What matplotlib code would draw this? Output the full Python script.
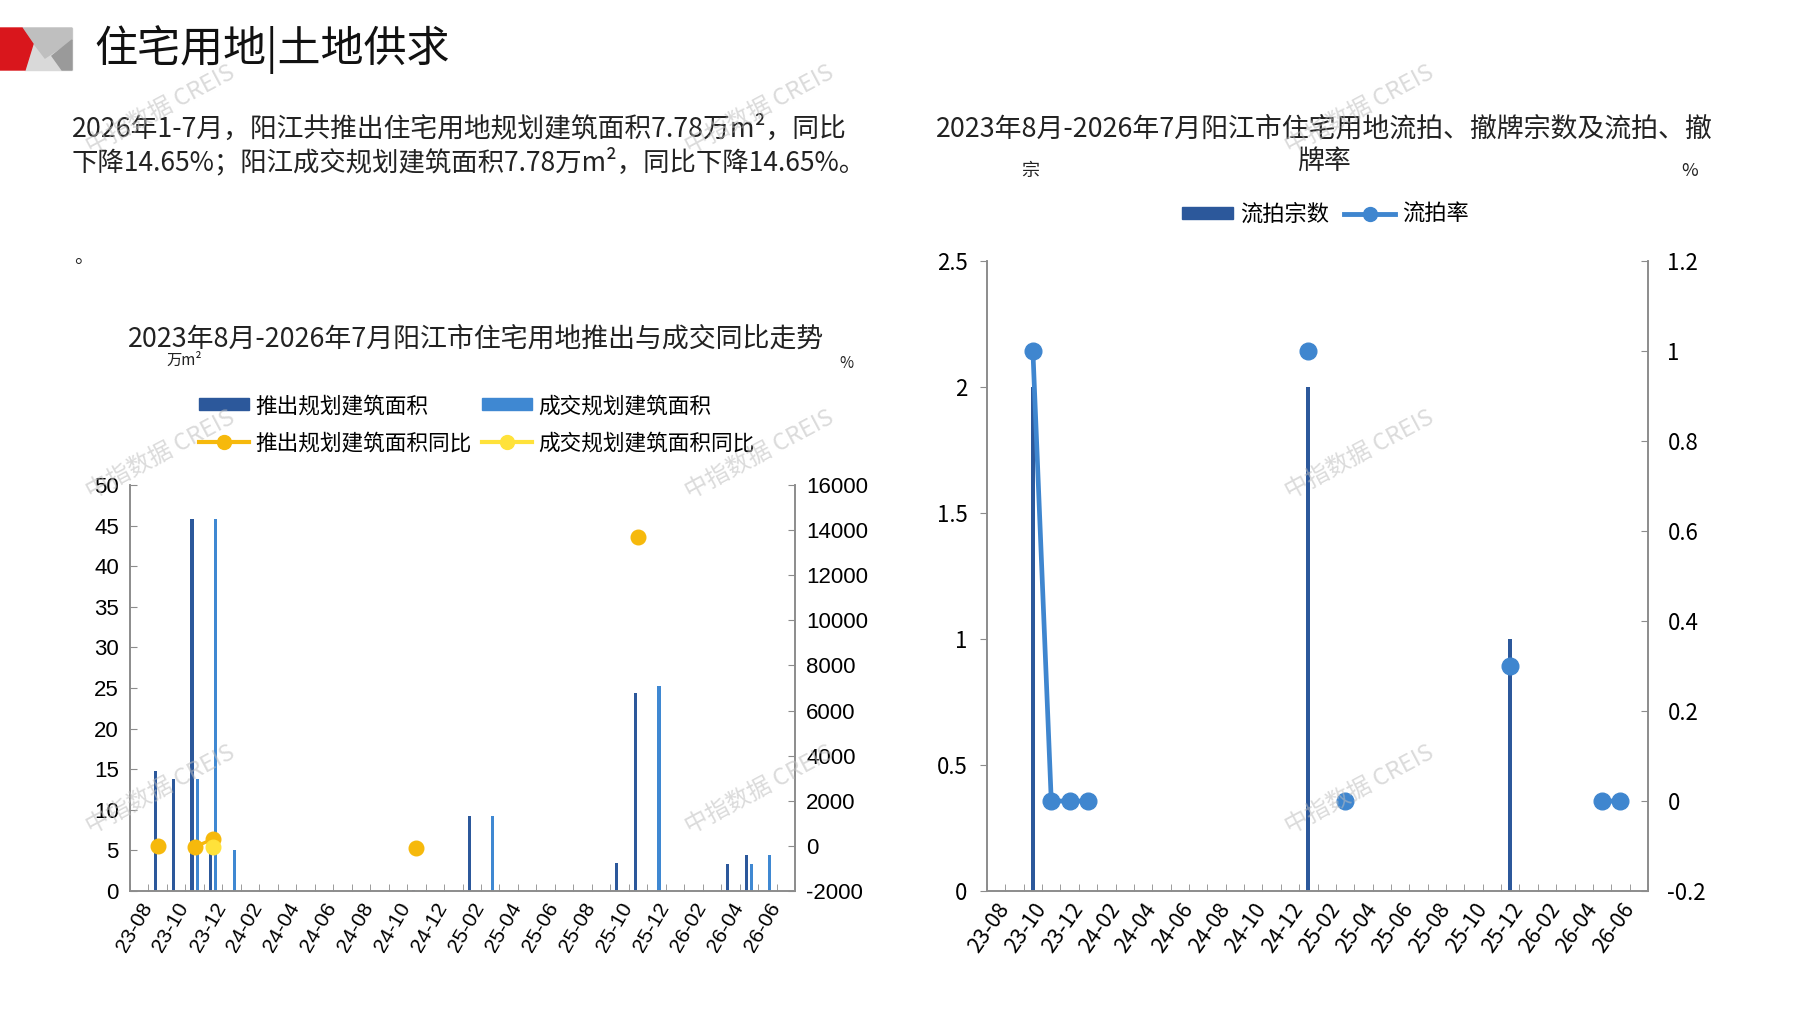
import numpy as np
import matplotlib
matplotlib.use('Agg')
import matplotlib.pyplot as plt
from matplotlib import font_manager
from matplotlib.patches import Polygon, Patch
from matplotlib.lines import Line2D

plt.rcParams['font.family'] = ['Noto Sans CJK SC', 'DejaVu Sans']
plt.rcParams['axes.unicode_minus'] = False

# font for the left chart's numbers (narrow Arial look)
_names = {f.name for f in font_manager.fontManager.ttflist}
NUM_FONT = 'Liberation Sans Narrow' if 'Liberation Sans Narrow' in _names else 'Liberation Sans'

W, H = 1797, 1010

# ---------------- data ----------------
months = ['23-08', '23-09', '23-10', '23-11', '23-12', '24-01', '24-02', '24-03',
          '24-04', '24-05', '24-06', '24-07', '24-08', '24-09', '24-10', '24-11',
          '24-12', '25-01', '25-02', '25-03', '25-04', '25-05', '25-06', '25-07',
          '25-08', '25-09', '25-10', '25-11', '25-12', '26-01', '26-02', '26-03',
          '26-04', '26-05', '26-06', '26-07']
n = None
# 推出规划建筑面积 (万m²)
supply = [n, 14.8, 13.8, 45.8, 5.0, n, n, n, n, n, n, n, n, n, n, 0.18,
          n, n, 9.2, n, n, n, n, n, n, n, 3.5, 24.4, n, n, n, n, 3.3, 4.4, n, n]
# 成交规划建筑面积 (万m²)
deal = [n, n, n, 13.8, 45.8, 5.0, n, n, n, n, n, n, n, n, n, n,
        n, n, n, 9.2, n, n, n, n, n, n, n, n, 25.3, n, n, n, n, 3.3, 4.4, n]
# 推出规划建筑面积同比 (%)
supply_yoy = [n, -20, n, -40, 300, n, n, n, n, n, n, n, n, n, n, -80,
              n, n, n, n, n, n, n, n, n, n, n, 13700, n, n, n, n, n, n, n, n]
# 成交规划建筑面积同比 (%)
deal_yoy = [n, n, n, n, -40, n, n, n, n, n, n, n, n, n, n, n,
            n, n, n, n, n, n, n, n, n, n, n, n, n, n, n, n, n, n, n, n]
# 流拍宗数
fail_count = [n, n, 2, n, n, n, n, n, n, n, n, n, n, n, n, n,
              n, 2, n, n, n, n, n, n, n, n, n, n, 1, n, n, n, n, n, n, n]
# 流拍率
fail_rate = [n, n, 1.0, 0, 0, 0, n, n, n, n, n, n, n, n, n, n,
             n, 1.0, n, 0, n, n, n, n, n, n, n, n, 0.3, n, n, n, n, 0, 0, n]

left_ticks = [0, 5, 10, 15, 20, 25, 30, 35, 40, 45, 50]
right_ticks = [-2000, 0, 2000, 4000, 6000, 8000, 10000, 12000, 14000, 16000]
cnt_ticks = [0, 0.5, 1, 1.5, 2, 2.5]
cnt_labels = ['0', '0.5', '1', '1.5', '2', '2.5']
rate_ticks = [-0.2, 0, 0.2, 0.4, 0.6, 0.8, 1.0, 1.2]
rate_labels = ['-0.2', '0', '0.2', '0.4', '0.6', '0.8', '1', '1.2']

C_DARK = '#2C589B'
C_LIGHT = '#3F88D2'
C_ORANGE = '#F6B90C'
C_YELLOW = '#FFE23A'
C_LINE = '#3F86CF'
C_AXIS = '#8C8C8C'


def arr(v):
    return np.array([np.nan if a is None else a for a in v], dtype=float)


def fx(px):
    return px / W


def fy(py):
    return 1 - py / H


fig = plt.figure(figsize=(W / 100, H / 100), dpi=100)

# ---------------- header ----------------
fig.patches.append(Polygon([(fx(22), fy(28)), (fx(72), fy(28)), (fx(72), fy(70)), (fx(25), fy(70))],
                           closed=True, transform=fig.transFigure, color='#D9D9D9'))
fig.patches.append(Polygon([(fx(22), fy(28)), (fx(72), fy(28)), (fx(72), fy(40)), (fx(45), fy(58))],
                           closed=True, transform=fig.transFigure, color='#BFBFBF'))
fig.patches.append(Polygon([(fx(72), fy(40)), (fx(72), fy(70)), (fx(62), fy(70)), (fx(52), fy(56))],
                           closed=True, transform=fig.transFigure, color='#9A9A9A'))
fig.patches.append(Polygon([(0, fy(28)), (fx(22), fy(28)), (fx(33), fy(44)), (fx(25), fy(70)), (0, fy(70))],
                           closed=True, transform=fig.transFigure, color='#D9161C'))
fig.text(fx(94), fy(50), '住宅用地|土地供求', fontsize=31, va='center', ha='left', color='#111111')

fig.text(fx(72), fy(129), '2026年1-7月，阳江共推出住宅用地规划建筑面积7.78万m²，同比',
         fontsize=19.3, va='center', ha='left', color='#222222')
fig.text(fx(72), fy(162), '下降14.65%；阳江成交规划建筑面积7.78万m²，同比下降14.65%。',
         fontsize=19, va='center', ha='left', color='#222222')
fig.text(fx(74), fy(257), '。', fontsize=14, va='center', ha='left', color='#222222')

x = np.arange(len(months))

# ---------------- left chart ----------------
ax1 = fig.add_axes([fx(130), fy(891), fx(795) - fx(130), fy(485) - fy(891)])
ax1r = ax1.twinx()
ax1.bar(x - 0.14, arr(supply), width=0.17, color=C_DARK, zorder=2)
ax1.bar(x + 0.14, arr(deal), width=0.17, color=C_LIGHT, zorder=2)
ax1r.plot(x, arr(supply_yoy), color=C_ORANGE, lw=2.4, marker='o', ms=10.5, zorder=3)
ax1r.plot(x, arr(deal_yoy), color=C_YELLOW, lw=2.4, marker='o', ms=10.5, zorder=4)

ax1.set_xlim(-0.5, len(months) - 0.5)
ax1.set_ylim(0, 50)
ax1r.set_ylim(-2000, 16000)
ax1.set_yticks(left_ticks, [str(t) for t in left_ticks], fontfamily=NUM_FONT, fontsize=16)
ax1r.set_yticks(right_ticks, [str(t) for t in right_ticks], fontfamily=NUM_FONT, fontsize=16)
ax1.set_xticks(x[::2], months[::2], fontfamily=NUM_FONT, fontsize=15,
               rotation=60, ha='right', va='top', rotation_mode='anchor')
ax1.set_xticks(np.arange(-0.5, len(months), 1), minor=True)
ax1.tick_params(axis='x', which='major', length=0, pad=6)
ax1.tick_params(axis='x', which='minor', direction='in', length=5, color=C_AXIS)
ax1.tick_params(axis='y', direction='in', length=5, color=C_AXIS, pad=8)
ax1r.tick_params(axis='y', direction='in', length=5, color=C_AXIS, pad=8)

for a in (ax1, ax1r):
    a.spines['top'].set_visible(False)
    for s in ('left', 'right', 'bottom'):
        a.spines[s].set_color(C_AXIS)
        a.spines[s].set_linewidth(1.2)

fig.text(fx(476), fy(339), '2023年8月-2026年7月阳江市住宅用地推出与成交同比走势',
         fontsize=19.4, ha='center', va='center', color='#222222')
fig.text(fx(184), fy(360), '万m²', fontsize=11, ha='center', va='center', color='#222222')
fig.text(fx(846), fy(363), '%', fontsize=11, ha='center', va='center', color='#222222')

h_sup = Patch(color=C_DARK)
h_deal = Patch(color=C_LIGHT)
h_syoy = Line2D([], [], color=C_ORANGE, lw=3, marker='o', ms=10)
h_dyoy = Line2D([], [], color=C_YELLOW, lw=3, marker='o', ms=10)
fig.legend([h_sup, h_syoy, h_deal, h_dyoy],
           ['推出规划建筑面积', '推出规划建筑面积同比', '成交规划建筑面积', '成交规划建筑面积同比'],
           ncol=2, loc='upper left', bbox_to_anchor=(fx(199), fy(395)), frameon=False,
           fontsize=15.6, handlelength=2.3, handleheight=0.45, handletextpad=0.3,
           columnspacing=0.5, labelspacing=0.7, borderaxespad=0, borderpad=0)

# ---------------- right chart ----------------
ax2 = fig.add_axes([fx(987), fy(891), fx(1648) - fx(987), fy(261) - fy(891)])
ax2r = ax2.twinx()
ax2.bar(x, arr(fail_count), width=0.22, color=C_DARK, zorder=2)
ax2r.plot(x, arr(fail_rate), color=C_LINE, lw=3.4, marker='o', ms=12, zorder=3)

ax2.set_xlim(-0.5, len(months) - 0.5)
ax2.set_ylim(0, 2.5)
ax2r.set_ylim(-0.2, 1.2)
ax2.set_yticks(cnt_ticks, cnt_labels, fontsize=16)
ax2r.set_yticks(rate_ticks, rate_labels, fontsize=16)
ax2.set_xticks(x[::2], months[::2], fontsize=15.5,
               rotation=55, ha='right', va='top', rotation_mode='anchor')
ax2.set_xticks(np.arange(-0.5, len(months), 1), minor=True)
ax2.tick_params(axis='x', which='major', length=0, pad=6)
ax2.tick_params(axis='x', which='minor', direction='in', length=5, color=C_AXIS)
ax2.tick_params(axis='y', direction='out', length=5, color=C_AXIS, pad=9)
ax2r.tick_params(axis='y', direction='in', length=5, color=C_AXIS, pad=14)

for a in (ax2, ax2r):
    a.spines['top'].set_visible(False)
    for s in ('left', 'right', 'bottom'):
        a.spines[s].set_color(C_AXIS)
        a.spines[s].set_linewidth(1.2)

fig.text(fx(1324), fy(129), '2023年8月-2026年7月阳江市住宅用地流拍、撤牌宗数及流拍、撤',
         fontsize=19.4, ha='center', va='center', color='#222222')
fig.text(fx(1324), fy(161), '牌率', fontsize=19.4, ha='center', va='center', color='#222222')
fig.text(fx(1030), fy(171), '宗', fontsize=13, ha='center', va='center', color='#222222')
fig.text(fx(1690), fy(171), '%', fontsize=13, ha='center', va='center', color='#222222')

h_cnt = Patch(color=C_DARK)
h_rate = Line2D([], [], color=C_LINE, lw=3.5, marker='o', ms=10)
fig.legend([h_cnt, h_rate], ['流拍宗数', '流拍率'], ncol=2, loc='center left',
           bbox_to_anchor=(fx(1182), fy(214)), frameon=False, fontsize=16,
           handlelength=2.3, handleheight=0.45, handletextpad=0.3, columnspacing=0.7,
           borderaxespad=0, borderpad=0)

# ---------------- watermarks ----------------
for wx in (161, 760, 1360):
    for wy in (110, 455, 790):
        fig.text(fx(wx), fy(wy), '中指数据 CREIS', fontsize=17, rotation=28,
                 ha='center', va='center', color='#BDBDBD', alpha=0.55, zorder=10)

fig.savefig('out.png', dpi=100)
